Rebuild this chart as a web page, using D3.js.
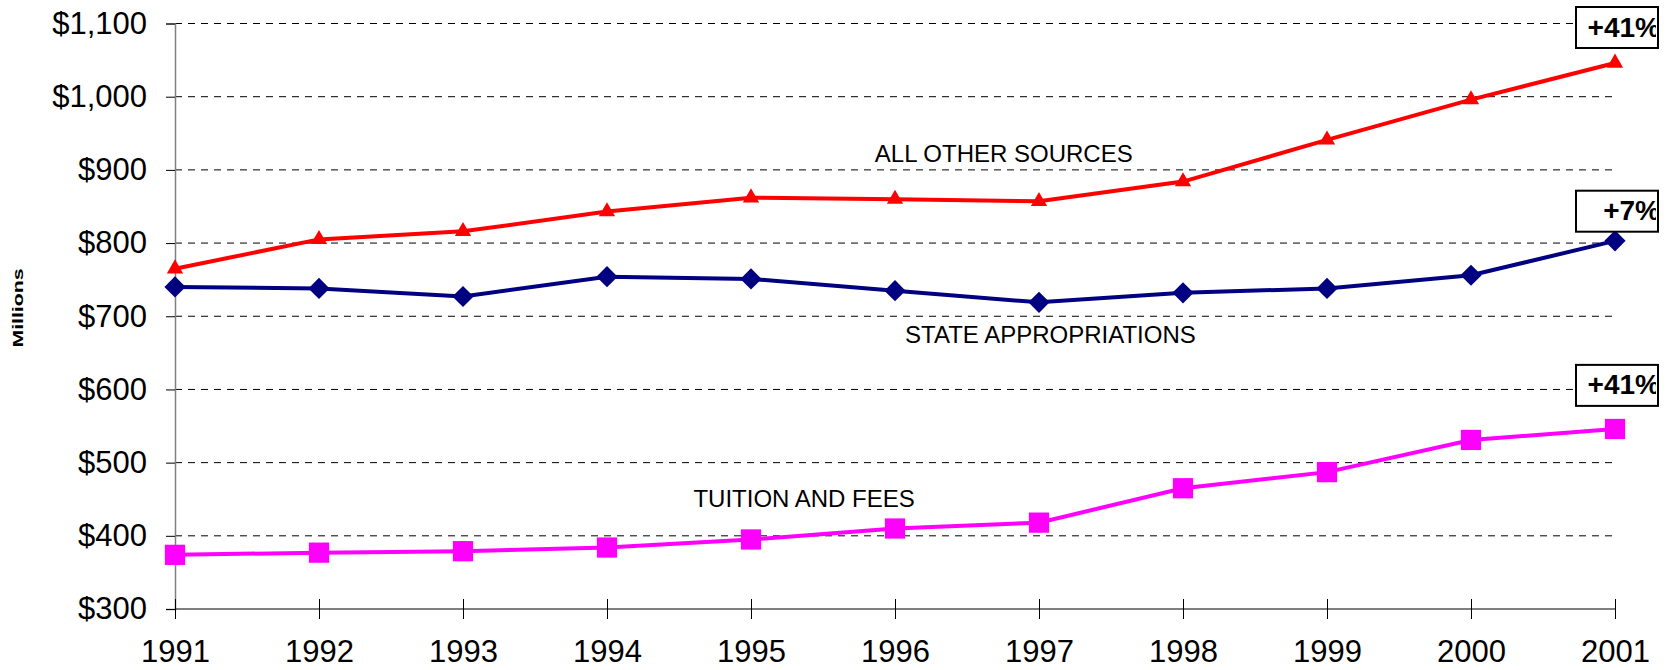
<!DOCTYPE html>
<html>
<head>
<meta charset="utf-8">
<script src="https://cdn.jsdelivr.net/npm/d3@7"></script>
<style>
  body { margin: 0; background: #fff; }
  svg { display: block; font-family: "Liberation Sans", Arial, sans-serif; }
</style>
</head>
<body>
<svg id="chart" width="1673" height="670"></svg>
<script>
// data
const years = [1991, 1992, 1993, 1994, 1995, 1996, 1997, 1998, 1999, 2000, 2001];
const otherSources = [765, 805, 816, 843, 862, 860, 857, 884, 941, 996, 1046];
const stateApprop = [740, 738, 727, 754, 751, 735, 719, 732, 738, 756, 803];
const tuitionFees = [374, 377, 379, 384, 395, 410, 418, 465, 487, 531, 546];
const yTicks = [300, 400, 500, 600, 700, 800, 900, 1000, 1100];
const changeLabels = ["+41%", "+7%", "+41%"];

const margin = { top: 23.5, right: 58, bottom: 61, left: 175 };
const W = 1673, H = 670;
const width = W - margin.left - margin.right;
const height = H - margin.top - margin.bottom;

const svg = d3.select("#chart");
const g = svg.append("g").attr("transform", `translate(${margin.left},${margin.top})`);

const x = d3.scaleLinear().domain([1991, 2001]).range([0, width]);
const y = d3.scaleLinear().domain([300, 1100]).range([height, 0]);

// dashed gridlines
g.selectAll(".grid")
  .data(yTicks.filter(d => d > 300))
  .enter().append("line")
  .attr("x1", 0).attr("x2", width)
  .attr("y1", d => y(d)).attr("y2", d => y(d))
  .attr("stroke", "#000").attr("stroke-width", 1)
  .attr("stroke-dasharray", "7,6");

// y axis
const yAxis = g.append("g")
  .call(d3.axisLeft(y).tickValues(yTicks).tickSize(9).tickPadding(19)
    .tickFormat(d => "$" + d3.format(",")(d)));
yAxis.select(".domain").attr("stroke", "#808080").attr("stroke-width", 1.5);
yAxis.selectAll(".tick line").attr("stroke", "#000");
yAxis.selectAll("text").attr("font-size", 31).attr("fill", "#000")
  .attr("font-family", "Liberation Sans, Arial, sans-serif");

// x axis (ticks cross the axis line)
const xAxis = g.append("g").attr("transform", `translate(0,${height})`)
  .call(d3.axisBottom(x).tickValues(years).tickSize(10).tickPadding(21).tickFormat(d3.format("d")));
xAxis.select(".domain").attr("stroke", "#000").attr("stroke-width", 1.2).attr("d", `M0,0H${width}`);
xAxis.selectAll(".tick line").attr("y1", -10).attr("stroke", "#000");
xAxis.selectAll("text").attr("font-size", 31).attr("fill", "#000")
  .attr("font-family", "Liberation Sans, Arial, sans-serif");

// y title (stretched like the original)
svg.append("text")
  .attr("transform", "translate(23,308) rotate(-90)")
  .attr("text-anchor", "middle")
  .attr("font-size", 14).attr("font-weight", "bold")
  .attr("textLength", 79).attr("lengthAdjust", "spacingAndGlyphs")
  .text("Millions");

const line = d3.line().x((d, i) => x(years[i])).y(d => y(d));

function drawSeries(values, color, shape, size, rot) {
  g.append("path").datum(values)
    .attr("d", line).attr("fill", "none")
    .attr("stroke", color).attr("stroke-width", 4);
  g.selectAll(null).data(values).enter().append("path")
    .attr("transform", (d, i) => `translate(${x(years[i])},${y(d)}) rotate(${rot})`)
    .attr("d", d3.symbol().type(shape).size(size))
    .attr("fill", color);
}

drawSeries(tuitionFees, "#ff00ff", d3.symbolSquare, 410, 0);
drawSeries(stateApprop, "#000080", d3.symbolSquare, 225, 45);
drawSeries(otherSources, "#ff0000", d3.symbolTriangle, 115, 0);

// series labels
const seriesLabels = [
  { text: "ALL OTHER SOURCES", yr: 1995.86, v: 911 },
  { text: "STATE APPROPRIATIONS", yr: 1996.07, v: 664 },
  { text: "TUITION AND FEES", yr: 1994.6, v: 439 }
];
g.selectAll(".slabel").data(seriesLabels).enter().append("text")
  .attr("x", d => x(d.yr)).attr("y", d => y(d.v))
  .attr("font-size", 24).attr("fill", "#000")
  .text(d => d.text);

// change boxes at the right
const boxValues = [1100, 849, 611];
boxValues.forEach((v, i) => {
  const bx = x(2001) - 39, by = y(v) - 16.5, bw = 82, bh = 41;
  const id = "clip" + i;
  svg.append("clipPath").attr("id", id)
    .append("rect").attr("x", bx + margin.left).attr("y", by + margin.top)
    .attr("width", bw - 2).attr("height", bh);
  g.append("rect")
    .attr("x", bx).attr("y", by).attr("width", bw).attr("height", bh)
    .attr("fill", "#fff").attr("stroke", "#000").attr("stroke-width", 2);
  svg.append("text")
    .attr("clip-path", `url(#${id})`)
    .attr("x", bx + margin.left + 84).attr("y", by + margin.top + 29.5)
    .attr("text-anchor", "end")
    .attr("font-size", 28).attr("font-weight", "bold")
    .text(changeLabels[i]);
});
</script>
</body>
</html>
